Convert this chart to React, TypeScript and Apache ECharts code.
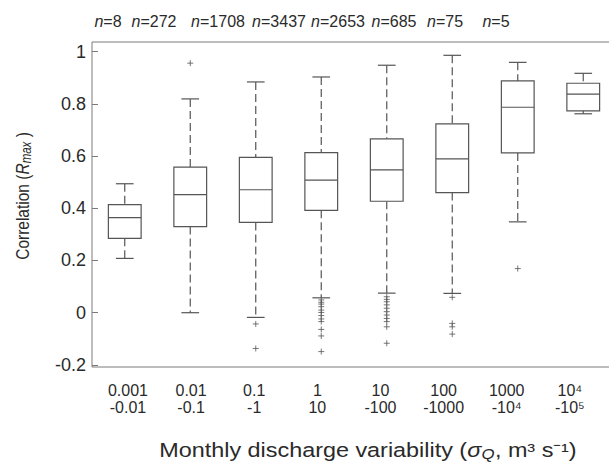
import React, { useEffect, useRef } from "react";
import * as echarts from "echarts";

const categories = ["0.001\n-0.01", "0.01\n-0.1", "0.1\n-1", "1\n10", "10\n-100", "100\n-1000", "1000\n-10⁴", "10⁴\n-10⁵"];
const sampleCounts = ["8", "272", "1708", "3437", "2653", "685", "75", "5"];
const whiskerLow = [0.208, 0.0, -0.018, 0.057, 0.075, 0.074, 0.348, 0.762];
const q1 = [0.285, 0.33, 0.346, 0.392, 0.427, 0.46, 0.612, 0.773];
const median = [0.364, 0.452, 0.471, 0.508, 0.547, 0.589, 0.787, 0.837];
const q3 = [0.414, 0.558, 0.595, 0.613, 0.666, 0.723, 0.888, 0.879];
const whiskerHigh = [0.494, 0.819, 0.884, 0.903, 0.948, 0.986, 0.959, 0.917];
const outlierValues: number[][] = [
  [],
  [0.956],
  [-0.043, -0.137],
  [0.049, 0.04, 0.033, 0.023, 0.01, 0.001, -0.011, -0.024, -0.034, -0.064, -0.089, -0.149],
  [0.061, 0.051, 0.042, 0.03, 0.017, 0.004, -0.009, -0.022, -0.034, -0.054, -0.117],
  [0.059, -0.041, -0.054, -0.082],
  [0.169],
  [],
];

// layout: horizontal centres of the sample-size annotations above the plot
const countLabelCentres = [108, 154, 218, 279, 338, 394, 445, 496];

const FONT = "'Liberation Sans', Arial, sans-serif";
const LINE = "#555";
const FRAME = "#7a7a7a";
const TEXT = "#2a2a2a";

export default function App() {
  const ref = useRef<HTMLDivElement>(null);
  useEffect(() => {
    if (!ref.current) return;
    const chart = echarts.init(ref.current, null, { renderer: "svg" });
    const boxData = categories.map((_, i) => [i, whiskerLow[i], q1[i], median[i], q3[i], whiskerHigh[i]]);
    const outlierData: number[][] = [];
    outlierValues.forEach((vals, i) => vals.forEach((v) => outlierData.push([i, v])));

    const gridTop = 42;
    const gridHeight = 325;
    const gridBase = { outerBoundsMode: "none", containLabel: false };

    const countTexts = sampleCounts.map((c, i) => ({
      type: "text",
      x: countLabelCentres[i],
      y: 21.5,
      style: {
        text: `{i|n}=${c}`,
        fontSize: 16, fontFamily: FONT, fill: TEXT, align: "center", verticalAlign: "middle",
        rich: { i: { fontStyle: "italic", fontSize: 16, fontFamily: FONT, fill: TEXT } },
      },
    }));

    const option: any = {
      animation: false,
      backgroundColor: "#fff",
      textStyle: { fontFamily: FONT },
      grid: [
        { ...gridBase, left: 92, top: gridTop, width: 524, height: gridHeight, show: true, borderColor: FRAME, borderWidth: 1, backgroundColor: "transparent" },
        { ...gridBase, left: 96.4, top: gridTop, width: 505, height: gridHeight, show: false },
      ],
      xAxis: [
        {
          type: "category", gridIndex: 0, data: categories, boundaryGap: true,
          axisLine: { show: false }, axisTick: { show: false }, axisLabel: { show: false }, splitLine: { show: false },
        },
        {
          type: "category", gridIndex: 1, position: "bottom", data: categories,
          axisLine: { show: false }, axisTick: { show: false }, splitLine: { show: false },
          axisLabel: { margin: 15, fontSize: 16, lineHeight: 17, color: TEXT, fontFamily: FONT, interval: 0 },
        },
      ],
      yAxis: [
        {
          type: "value", gridIndex: 0, min: -0.208, max: 1.037, splitNumber: 6,
          axisLine: { show: false }, splitLine: { show: false },
          axisTick: { show: true, inside: true, length: 6, lineStyle: { color: FRAME } },
          axisLabel: { showMinLabel: false, showMaxLabel: false, fontSize: 18, color: TEXT, margin: 6, fontFamily: FONT },
        },
        {
          type: "value", gridIndex: 0, position: "right", min: -0.208, max: 1.037, splitNumber: 6,
          axisLine: { show: false }, splitLine: { show: false },
          axisTick: { show: true, inside: true, length: 6, lineStyle: { color: FRAME } },
          axisLabel: { show: false },
        },
        { type: "value", gridIndex: 1, show: false },
      ],
      graphic: [
        ...countTexts,
        {
          type: "text", x: 23, y: 196, rotation: Math.PI / 2, scaleY: 1.2,
          style: {
            text: "Correlation ({i|R}{sub|max} )",
            fontSize: 15.5, fontFamily: FONT, fill: TEXT, align: "center", verticalAlign: "middle",
            rich: {
              i: { fontStyle: "italic", fontSize: 15.5, fontFamily: FONT, fill: TEXT, lineHeight: 18 },
              sub: { fontStyle: "italic", fontSize: 11.5, fontFamily: FONT, fill: TEXT, verticalAlign: "bottom", lineHeight: 11, padding: [5, 0, 0, 0] },
            },
          },
        },
        {
          type: "text", x: 368, y: 451, scaleX: 1.2,
          style: {
            text: "Monthly discharge variability ({i|σ}{sub|Q}, m³ s⁻¹)",
            fontSize: 19.5, fontFamily: FONT, fill: TEXT, align: "center", verticalAlign: "middle",
            rich: {
              i: { fontStyle: "italic", fontSize: 19.5, fontFamily: FONT, fill: TEXT, lineHeight: 21 },
              sub: { fontStyle: "italic", fontSize: 14, fontFamily: FONT, fill: TEXT, verticalAlign: "bottom", lineHeight: 12, padding: [6, 0, 0, 0] },
            },
          },
        },
      ],
      series: [
        {
          type: "custom",
          xAxisIndex: 0, yAxisIndex: 0,
          data: boxData,
          encode: { x: 0, y: [1, 2, 3, 4, 5] },
          renderItem: (params: any, api: any) => {
            const i = api.value(0);
            const lo = api.coord([i, api.value(1)]);
            const b1 = api.coord([i, api.value(2)]);
            const md = api.coord([i, api.value(3)]);
            const b3 = api.coord([i, api.value(4)]);
            const hi = api.coord([i, api.value(5)]);
            const band = api.size([1, 0])[0];
            const bw = band * 0.5;
            const cw = band * 0.27;
            const x = lo[0];
            const solid = { stroke: LINE, lineWidth: 1.2, fill: null };
            const dashed = { stroke: LINE, lineWidth: 1.2, lineDash: [8, 4], fill: null };
            return {
              type: "group",
              children: [
                { type: "line", shape: { x1: x, y1: hi[1], x2: x, y2: b3[1] }, style: dashed },
                { type: "line", shape: { x1: x, y1: b1[1], x2: x, y2: lo[1] }, style: dashed },
                { type: "line", shape: { x1: x - cw / 2, y1: hi[1], x2: x + cw / 2, y2: hi[1] }, style: solid },
                { type: "line", shape: { x1: x - cw / 2, y1: lo[1], x2: x + cw / 2, y2: lo[1] }, style: solid },
                { type: "rect", shape: { x: x - bw / 2, y: b3[1], width: bw, height: b1[1] - b3[1] }, style: { stroke: LINE, lineWidth: 1.2, fill: "#fff" } },
                { type: "line", shape: { x1: x - bw / 2, y1: md[1], x2: x + bw / 2, y2: md[1] }, style: solid },
              ],
            };
          },
          z: 2,
        },
        {
          type: "scatter",
          xAxisIndex: 0, yAxisIndex: 0,
          data: outlierData,
          symbol: "path://M5,0L5,10M0,5L10,5",
          symbolSize: 6,
          itemStyle: { color: "transparent", borderColor: LINE, borderWidth: 1 },
          z: 3,
        },
      ],
    };
    chart.setOption(option);
    return () => chart.dispose();
  }, []);
  return <div ref={ref} style={{ position: "fixed", left: 0, top: 0, width: 609, height: 463, background: "#fff" }} />;
}
